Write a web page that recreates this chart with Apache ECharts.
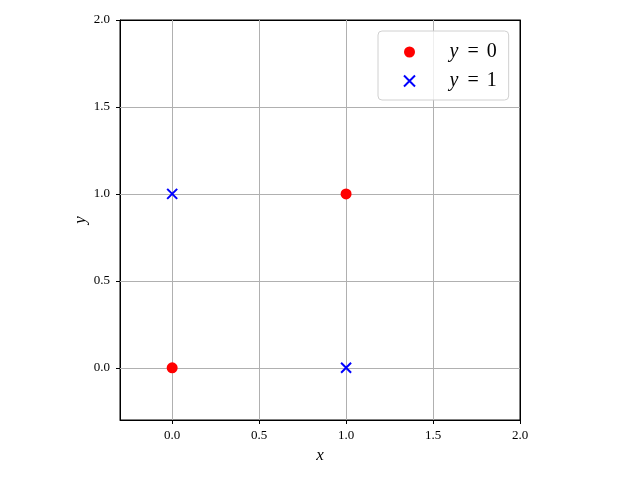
<!DOCTYPE html>
<html><head><meta charset="utf-8">
<script src="https://cdn.jsdelivr.net/npm/echarts@6/dist/echarts.min.js"></script>
<style>html,body{margin:0;padding:0;background:#fff}#c{width:640px;height:480px}</style>
</head><body><div id="c"></div>
<script>
const tickValues = [0, 0.5, 1.0, 1.5, 2.0];
const class0 = [[0, 0], [1, 1]];
const class1 = [[0, 1], [1, 0]];
const seriesNames = ['y0', 'y1'];
const legendLabels = ['0', '1'];
const serif = 'Liberation Serif, DejaVu Serif, serif';
const xPath = 'path://M0,0L10,10M10,0L0,10';

const chart = echarts.init(document.getElementById('c'));
function axis(name, isY) {
  return {
    type: 'value', min: -0.3, max: 2.0,
    name: name, nameLocation: 'middle', nameGap: isY ? 31 : 27, nameMoveOverlap: false,
    nameTextStyle: {fontFamily: serif, fontStyle: 'italic', fontSize: 17, color: '#000'},
    axisLine: {show: true, onZero: false, lineStyle: {color: '#000', width: 1}},
    axisTick: {show: true, customValues: tickValues, length: 4, lineStyle: {color: '#000'}},
    axisLabel: {customValues: tickValues, fontFamily: serif, fontSize: 13, color: '#000', margin: isY ? 10 : 9,
      formatter: v => v.toFixed(1)},
    splitLine: {show: false}
  };
}
const gridLineStyle = {color: '#b0b0b0', width: 1, type: 'solid'};
const gridVals = tickValues.filter(v => v < 2.0);
chart.setOption({
  animation: false,
  grid: {left: 120, right: 120, top: 20, bottom: 60, show: true, borderColor: '#000', borderWidth: 1},
  xAxis: [axis('x', false), Object.assign(axis('', false), {position: 'top', axisTick: {show: false}, axisLabel: {show: false}})],
  yAxis: [axis('y', true), Object.assign(axis('', true), {position: 'right', axisTick: {show: false}, axisLabel: {show: false}})],
  legend: {
    orient: 'vertical', left: 378, top: 31,
    padding: [11, 12, 9, 25], itemGap: 9, itemWidth: 40, itemHeight: 11,
    backgroundColor: 'rgba(255,255,255,0.8)', borderColor: '#d0d0d0', borderWidth: 1, borderRadius: 4,
    data: seriesNames,
    formatter: n => '{i|y}{e|=}{d|' + legendLabels[seriesNames.indexOf(n)] + '}',
    textStyle: {rich: {
      i: {fontFamily: serif, fontStyle: 'italic', fontSize: 20, color: '#000', padding: [0, 0, 0, 15]},
      e: {fontFamily: serif, fontSize: 20, color: '#000', padding: [0, 8, 0, 9]},
      d: {fontFamily: serif, fontSize: 20, color: '#000'}
    }}
  },
  series: [
    {name: 'y0', type: 'scatter', data: class0, symbol: 'circle', symbolSize: 11,
     itemStyle: {color: '#ff0000', opacity: 1}, z: 5,
     markLine: {silent: true, symbol: 'none', label: {show: false}, lineStyle: gridLineStyle, z: 1,
       data: gridVals.map(v => ({xAxis: v})).concat(gridVals.map(v => ({yAxis: v})))}},
    {name: 'y1', type: 'scatter', data: class1, symbol: xPath, symbolSize: 10,
     itemStyle: {color: '#0000ff', borderColor: '#0000ff', borderWidth: 2, opacity: 1}, z: 5}
  ]
});
</script></body></html>
